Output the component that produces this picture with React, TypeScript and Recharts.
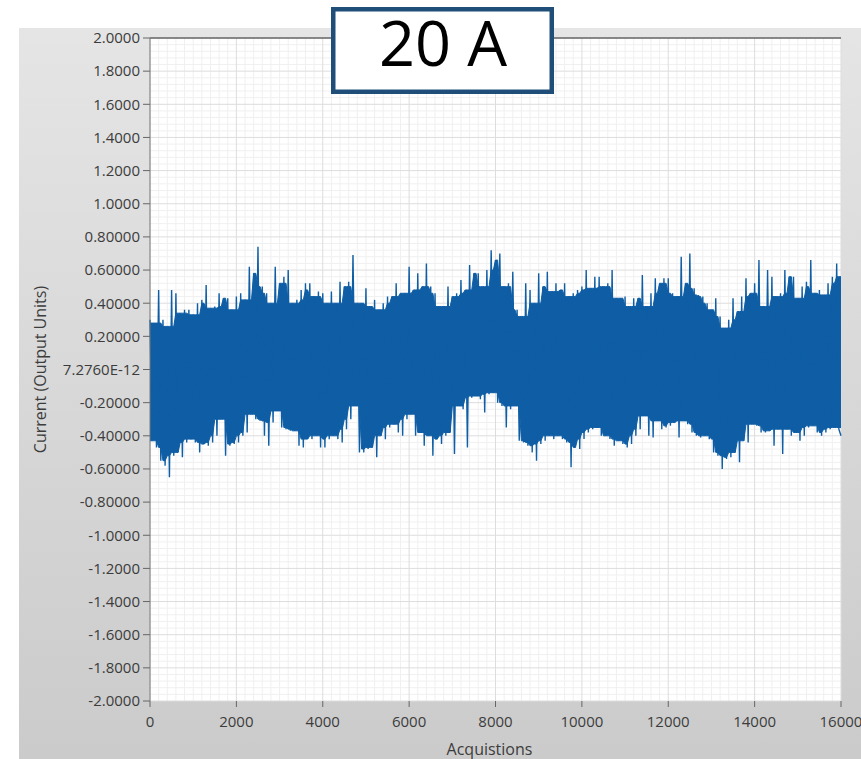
import { ComposedChart, Area, Line, XAxis, YAxis, CartesianGrid, ReferenceLine } from "recharts";

// axis ticks
const xTicks = [0, 2000, 4000, 6000, 8000, 10000, 12000, 14000, 16000];
const yTicks = [-2, -1.8, -1.6, -1.4, -1.2, -1, -0.8, -0.6, -0.4, -0.2, 0, 0.2, 0.4, 0.6, 0.8, 1, 1.2, 1.4, 1.6, 1.8, 2];
const yTickLabels = [
  "-2.0000", "-1.8000", "-1.6000", "-1.4000", "-1.2000", "-1.0000", "-0.80000", "-0.60000", "-0.40000", "-0.20000",
  "7.2760E-12",
  "0.20000", "0.40000", "0.60000", "0.80000", "1.0000", "1.2000", "1.4000", "1.6000", "1.8000", "2.0000",
];

// signal: highest and lowest value in every 100-acquisition bin (0 .. 15900)
const binSize = 100;
const peakHigh = [
  0.30, 0.28, 0.48, 0.30, 0.26, 0.48, 0.46, 0.34, 0.36, 0.36,
  0.33, 0.40, 0.42, 0.51, 0.37, 0.38, 0.46, 0.43, 0.43, 0.36,
  0.44, 0.46, 0.42, 0.62, 0.58, 0.74, 0.50, 0.46, 0.40, 0.62,
  0.52, 0.56, 0.60, 0.40, 0.42, 0.48, 0.52, 0.52, 0.44, 0.47,
  0.46, 0.40, 0.47, 0.40, 0.53, 0.50, 0.53, 0.69, 0.40, 0.40,
  0.49, 0.38, 0.42, 0.36, 0.40, 0.44, 0.44, 0.52, 0.46, 0.46,
  0.62, 0.48, 0.58, 0.50, 0.64, 0.50, 0.46, 0.38, 0.38, 0.50,
  0.44, 0.46, 0.54, 0.48, 0.63, 0.58, 0.58, 0.50, 0.60, 0.72,
  0.66, 0.70, 0.50, 0.52, 0.59, 0.36, 0.32, 0.52, 0.48, 0.40,
  0.58, 0.50, 0.59, 0.47, 0.52, 0.48, 0.52, 0.44, 0.46, 0.48,
  0.50, 0.60, 0.49, 0.56, 0.56, 0.50, 0.52, 0.60, 0.43, 0.43,
  0.44, 0.38, 0.43, 0.43, 0.57, 0.38, 0.46, 0.55, 0.52, 0.55,
  0.55, 0.46, 0.44, 0.68, 0.52, 0.70, 0.49, 0.45, 0.44, 0.40,
  0.36, 0.43, 0.32, 0.25, 0.30, 0.43, 0.35, 0.44, 0.55, 0.46,
  0.52, 0.66, 0.38, 0.60, 0.56, 0.44, 0.46, 0.60, 0.56, 0.56,
  0.43, 0.50, 0.53, 0.66, 0.46, 0.48, 0.45, 0.52, 0.56, 0.64,
];
const peakLow = [
  -0.43, -0.47, -0.55, -0.58, -0.65, -0.52, -0.50, -0.53, -0.44, -0.42,
  -0.44, -0.50, -0.45, -0.46, -0.44, -0.40, -0.30, -0.52, -0.46, -0.45,
  -0.44, -0.40, -0.38, -0.27, -0.30, -0.31, -0.40, -0.46, -0.32, -0.25,
  -0.35, -0.36, -0.37, -0.37, -0.46, -0.47, -0.42, -0.42, -0.40, -0.47,
  -0.47, -0.42, -0.40, -0.42, -0.44, -0.36, -0.30, -0.22, -0.50, -0.50,
  -0.48, -0.47, -0.53, -0.40, -0.42, -0.35, -0.33, -0.38, -0.40, -0.30,
  -0.27, -0.40, -0.38, -0.46, -0.40, -0.52, -0.42, -0.45, -0.40, -0.38,
  -0.51, -0.22, -0.24, -0.47, -0.17, -0.16, -0.18, -0.26, -0.15, -0.14,
  -0.20, -0.22, -0.35, -0.24, -0.22, -0.43, -0.44, -0.46, -0.50, -0.55,
  -0.45, -0.43, -0.40, -0.42, -0.40, -0.42, -0.44, -0.59, -0.47, -0.48,
  -0.42, -0.38, -0.36, -0.35, -0.40, -0.40, -0.42, -0.46, -0.43, -0.45,
  -0.47, -0.45, -0.40, -0.36, -0.28, -0.40, -0.41, -0.31, -0.36, -0.35,
  -0.34, -0.32, -0.41, -0.31, -0.33, -0.38, -0.40, -0.41, -0.40, -0.42,
  -0.50, -0.52, -0.60, -0.54, -0.53, -0.50, -0.56, -0.43, -0.44, -0.33,
  -0.34, -0.38, -0.38, -0.37, -0.46, -0.36, -0.51, -0.36, -0.40, -0.38,
  -0.43, -0.40, -0.35, -0.34, -0.38, -0.40, -0.38, -0.36, -0.35, -0.36,
];
const lastValue = -0.4;

// dense core of the trace: what the neighbouring bins all reach
const near = (arr: number[], i: number) => arr.slice(Math.max(0, i - 1), Math.min(arr.length, i + 2));
const coreBand = (i: number): [number, number] => [Math.max(...near(peakLow, i)), Math.min(...near(peakHigh, i))];

const data = peakHigh
  .flatMap((h, i) => [
    { x: i * binSize, y: h, band: coreBand(i) },
    { x: i * binSize + binSize / 2, y: peakLow[i], band: coreBand(i) },
  ])
  .concat([{ x: 16000, y: lastValue, band: coreBand(peakHigh.length - 1) }]);

// fine grid between the major ticks
const minorX = xTicks.slice(0, -1).flatMap((t) => [1, 2, 3, 4, 5, 6, 7, 8, 9].map((k) => t + k * 200));
const minorY = yTicks.slice(0, -1).flatMap((t) => [1, 2, 3, 4].map((k) => t + k * 0.04));

const fmtY = (v: number) => {
  const i = yTicks.findIndex((t) => Math.abs(t - v) < 1e-9);
  return i >= 0 ? yTickLabels[i] : String(v);
};

const blue = "#0f5ea5";

export default function App() {
  return (
    <div style={{ position: "absolute", left: 0, top: 0, width: 861, height: 759, fontFamily: "Open Sans" }}>
      <div
        style={{
          position: "absolute",
          left: 19,
          top: 28,
          width: 842,
          height: 731,
          background: "linear-gradient(#e5e5e5, #cbcbcb)",
        }}
      />
      <div style={{ position: "absolute", left: 0, top: 0 }}>
        <ComposedChart width={861} height={759} data={data} margin={{ top: 38, right: 20, bottom: 0, left: 0 }}>
          <CartesianGrid
            fill="#ffffff"
            stroke="#f0f0f0"
            horizontalValues={minorY}
            verticalValues={minorX}
          />
          <CartesianGrid stroke="#dddddd" />
          <XAxis
            dataKey="x"
            type="number"
            domain={[0, 16000]}
            ticks={xTicks}
            interval={0}
            height={58}
            axisLine={false}
            tickLine={{ stroke: "#666" }}
            tickSize={6}
            tickMargin={9}
            tick={{ fill: "#3c3c3c", fontSize: 15 }}
            label={{ value: "Acquistions", position: "insideBottom", offset: 4, dx: -6, style: { fill: "#3c3c3c", fontSize: 16 } }}
          />
          <YAxis
            type="number"
            domain={[-2, 2]}
            ticks={yTicks}
            interval={0}
            width={150}
            tickFormatter={fmtY}
            axisLine={{ stroke: "#777" }}
            tickLine={{ stroke: "#666" }}
            tickSize={7}
            tickMargin={3}
            tick={{ fill: "#3c3c3c", fontSize: 15 }}
            label={{
              value: "Current (Output Units)",
              angle: -90,
              position: "insideLeft",
              offset: 40,
              style: { textAnchor: "middle", fill: "#3c3c3c", fontSize: 16 },
            }}
          />
          <ReferenceLine y={2} stroke="#666" strokeWidth={1.5} />
          <Area
            type="linear"
            dataKey="band"
            stroke={blue}
            strokeWidth={1}
            fill={blue}
            fillOpacity={1}
            isAnimationActive={false}
          />
          <Line
            type="linear"
            dataKey="y"
            stroke={blue}
            strokeWidth={1.4}
            dot={false}
            isAnimationActive={false}
          />
        </ComposedChart>
      </div>
      <svg width={861} height={759} style={{ position: "absolute", left: 0, top: 0, pointerEvents: "none" }}>
        <rect x={333.25} y={9.25} width={218.5} height={82.5} fill="#ffffff" stroke="#1f4e79" strokeWidth={4.5} />
        <text x={443} y={66} textAnchor="middle" fontSize={63} fontFamily="Open Sans" fill="#000">
          20 A
        </text>
      </svg>
    </div>
  );
}
